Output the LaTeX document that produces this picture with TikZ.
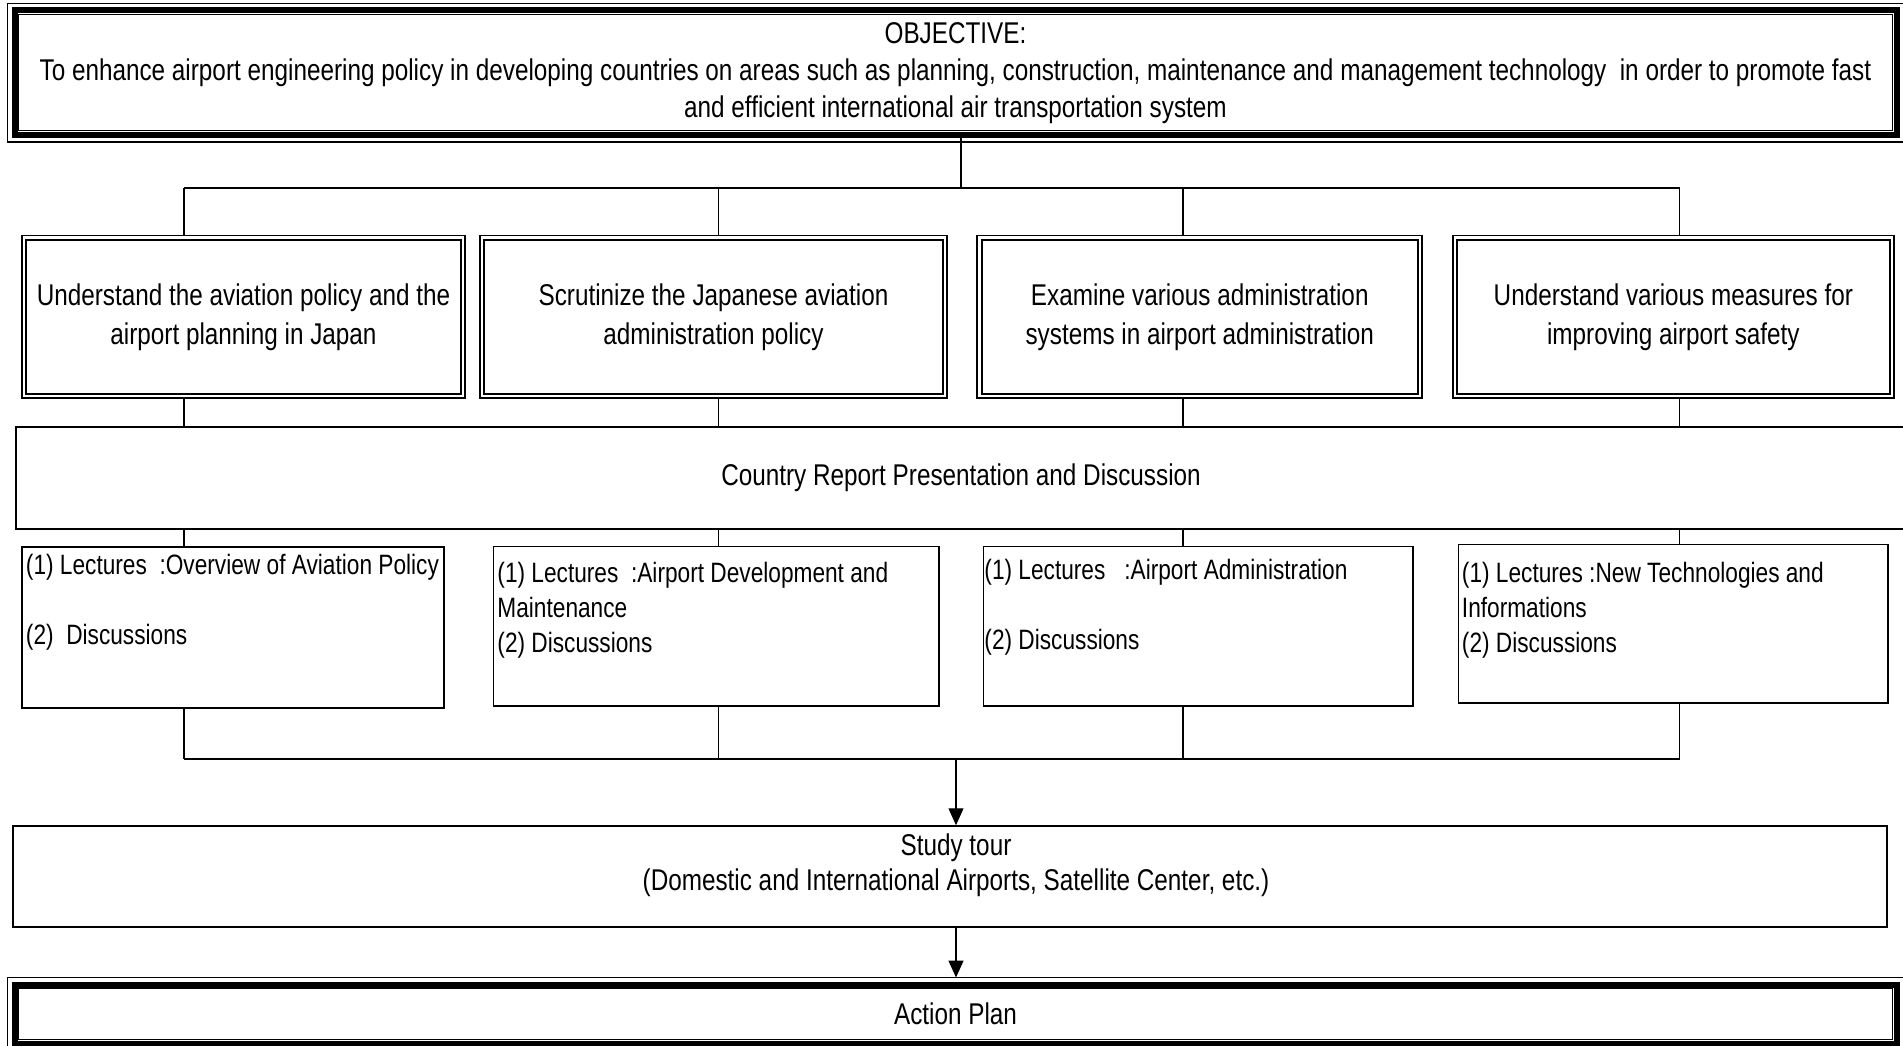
\documentclass[tikz,border=0pt]{standalone}
\usepackage{fontspec}
\setmainfont{Liberation Sans}[FakeStretch=0.81]
\usetikzlibrary{calc,arrows.meta}

\begin{document}
\begin{tikzpicture}[x=1pt, y=-1pt]
    \tikzset{thinline/.style={line width=1.4pt},
             outerbox/.style={draw, line width=6pt, outer sep=0pt, inner sep=0pt, align=center, font=\fontsize{30pt}{37pt}\selectfont},
             goal/.style={draw, double, double distance=2.4pt, line width=1.9pt, outer sep=3pt, inner sep=0pt, align=center, font=\fontsize{30pt}{39pt}\selectfont},
             lecture/.style={draw, line width=1.5pt, inner sep=0pt},
             lectext/.style={anchor=north west, align=left, inner sep=0pt, font=\fontsize{28pt}{35pt}\selectfont},
             crpbox/.style={draw, line width=1.4pt, inner sep=0pt, font=\fontsize{30pt}{35pt}\selectfont},
             flowarrow/.style={line width=1.4pt, -{Triangle[length=17pt,width=15pt]}}}
    \useasboundingbox (0,0) rectangle (1903,1046);

    \node[outerbox, minimum width=1882pt, minimum height=124.5pt] (obj) at (955.5,72.75) {OBJECTIVE:\\To enhance airport engineering policy in developing countries on areas such as planning, construction, maintenance and management technology\ \ in order to promote fast\\and efficient international air transportation system};

    \node[goal, minimum width=439pt, minimum height=158.4pt] (g1) at (243.5,316.8) {Understand the aviation policy and the\\airport planning in Japan};
    \node[goal, minimum width=463pt, minimum height=158.4pt] (g2) at (713.5,316.8) {Scrutinize the Japanese aviation\\administration policy};
    \node[goal, minimum width=440.5pt, minimum height=158.4pt] (g3) at (1199.75,316.8) {Examine various administration\\systems in airport administration};
    \node[goal, minimum width=436.7pt, minimum height=158.4pt] (g4) at (1673.35,316.8) {Understand various measures for\\improving airport safety};

    \node[crpbox, minimum width=1890pt, minimum height=102pt] (crp) at (961,478) {Country Report Presentation and Discussion};

    \node[lecture, minimum width=422pt, minimum height=161pt] (l1) at (233,627.5) {};
    \node[lecture, minimum width=445.5pt, minimum height=159.5pt] (l2) at (716.25,626.25) {};
    \node[lecture, minimum width=429.5pt, minimum height=159.5pt] (l3) at (1198.25,626.25) {};
    \node[lecture, minimum width=429.5pt, minimum height=158.5pt] (l4) at (1673.25,623.75) {};
    \node[lectext] (lt1) at ([shift={(4.5,7.6)}]l1.north west) {(1) Lectures\ \ :Overview of Aviation Policy\\[35pt](2)\ \ Discussions};
    \node[lectext] (lt2) at ([shift={(4.5,16.6)}]l2.north west) {(1) Lectures\ \ :Airport Development and\\Maintenance\\(2) Discussions};
    \node[lectext] (lt3) at ([shift={(1.5,13.6)}]l3.north west) {(1) Lectures\ \ \ :Airport Administration\\[35pt](2) Discussions};
    \node[lectext] (lt4) at ([shift={(4,18.1)}]l4.north west) {(1) Lectures :New Technologies and\\Informations\\(2) Discussions};

    \node[lecture, minimum width=1874pt, minimum height=101pt] (tour) at (950,876.5) {};
    \node[anchor=north, align=center, inner sep=0pt, font=\fontsize{30pt}{35pt}\selectfont] (tourtext) at ([shift={(6,8)}]tour.north) {Study tour\\(Domestic and International Airports, Satellite Center, etc.)};

    \node[outerbox, minimum width=1882pt, minimum height=59.5pt] (plan) at (955.5,1014.25) {Action Plan};

    \foreach \b in {obj,plan} {
        \draw[line width=1.3pt] ([shift={(-7,-7)}]\b.north west) rectangle ([shift={(7,7)}]\b.south east);
        \draw[line width=1.1pt] ([shift={(4.2,4.2)}]\b.north west) rectangle ([shift={(-4.2,-4.2)}]\b.south east);
    }

    \coordinate (top) at (961,188);
    \coordinate (s1) at (184,188);
    \coordinate (s2) at (718.5,188);
    \coordinate (s3) at (1183,188);
    \coordinate (s4) at (1679.5,188);
    \coordinate (e1) at (184,759);
    \coordinate (e2) at (718.5,759);
    \coordinate (e3) at (1183,759);
    \coordinate (e4) at (1679.5,759);
    \coordinate (join) at (956,759);

    \draw[thinline] (obj.south -| top) -- (top);
    \draw[thinline] (s1) -- (s4);
    \foreach \i in {1,...,4} {
        \draw[thinline] (s\i) -- (g\i.north -| s\i);
        \draw[thinline] (g\i.south -| s\i) -- (crp.north -| s\i);
        \draw[thinline] (crp.south -| s\i) -- (l\i.north -| s\i);
        \draw[thinline] (l\i.south -| s\i) -- (e\i);
    }
    \draw[thinline] (e1) -- (e4);
    \draw[flowarrow] (join) -- (tour.north -| join);
    \draw[flowarrow] (tour.south -| join) -- ([yshift=7pt]plan.north -| join);
\end{tikzpicture}
\end{document}
